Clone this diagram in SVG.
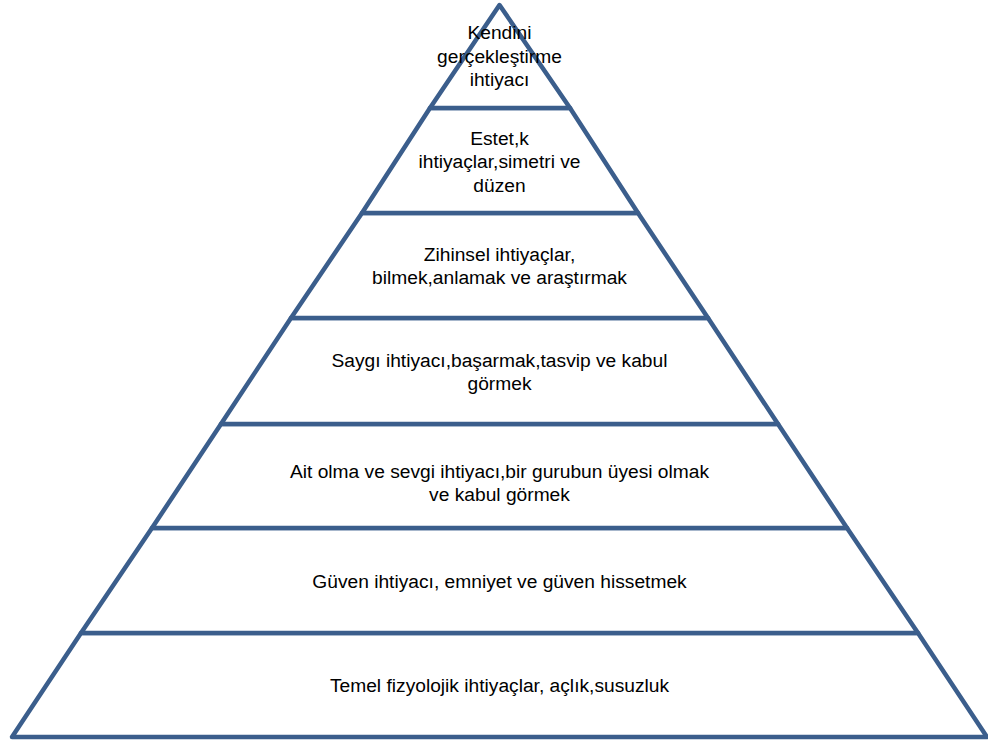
<svg xmlns="http://www.w3.org/2000/svg" width="988" height="743" viewBox="0 0 988 743">
<style>
.band{fill:#ffffff;stroke:#3b5e8c;stroke-width:4.5;stroke-linejoin:round}
.lbl{font-family:"Liberation Sans",Arial,sans-serif;font-size:19.2px;fill:#000;text-anchor:middle}
</style>
<rect width="988" height="743" fill="#ffffff"/>
<g id="band7">
<polygon class="band" points="81,633 918,633 987,737 12,737"/>
<text class="lbl" x="499.5" y="692">Temel fizyolojik ihtiyaçlar, açlık,susuzluk</text>
</g>
<g id="band6">
<polygon class="band" points="152,528 847,528 918,633 81,633"/>
<text class="lbl" x="499.5" y="588">Güven ihtiyacı, emniyet ve güven hissetmek</text>
</g>
<g id="band5">
<polygon class="band" points="221,424 778,424 847,528 152,528"/>
<text class="lbl" x="499.5" y="478">Ait olma ve sevgi ihtiyacı,bir gurubun üyesi olmak</text>
<text class="lbl" x="499.5" y="501">ve kabul görmek</text>
</g>
<g id="band4">
<polygon class="band" points="291,318 708,318 778,424 221,424"/>
<text class="lbl" x="499.5" y="367">Saygı ihtiyacı,başarmak,tasvip ve kabul</text>
<text class="lbl" x="499.5" y="390">görmek</text>
</g>
<g id="band3">
<polygon class="band" points="362,213 638,213 708,318 291,318"/>
<text class="lbl" x="499.5" y="261">Zihinsel ihtiyaçlar,</text>
<text class="lbl" x="499.5" y="284">bilmek,anlamak ve araştırmak</text>
</g>
<g id="band2">
<polygon class="band" points="430,108 570,108 638,213 362,213"/>
<text class="lbl" x="499.5" y="145">Estet,k</text>
<text class="lbl" x="499.5" y="168">ihtiyaçlar,simetri ve</text>
<text class="lbl" x="499.5" y="192">düzen</text>
</g>
<g id="band1">
<polygon class="band" points="499.5,5 570,108 430,108"/>
<text class="lbl" x="499.5" y="39">Kendini</text>
<text class="lbl" x="499.5" y="63">gerçekleştirme</text>
<text class="lbl" x="499.5" y="86">ihtiyacı</text>
</g>
</svg>
